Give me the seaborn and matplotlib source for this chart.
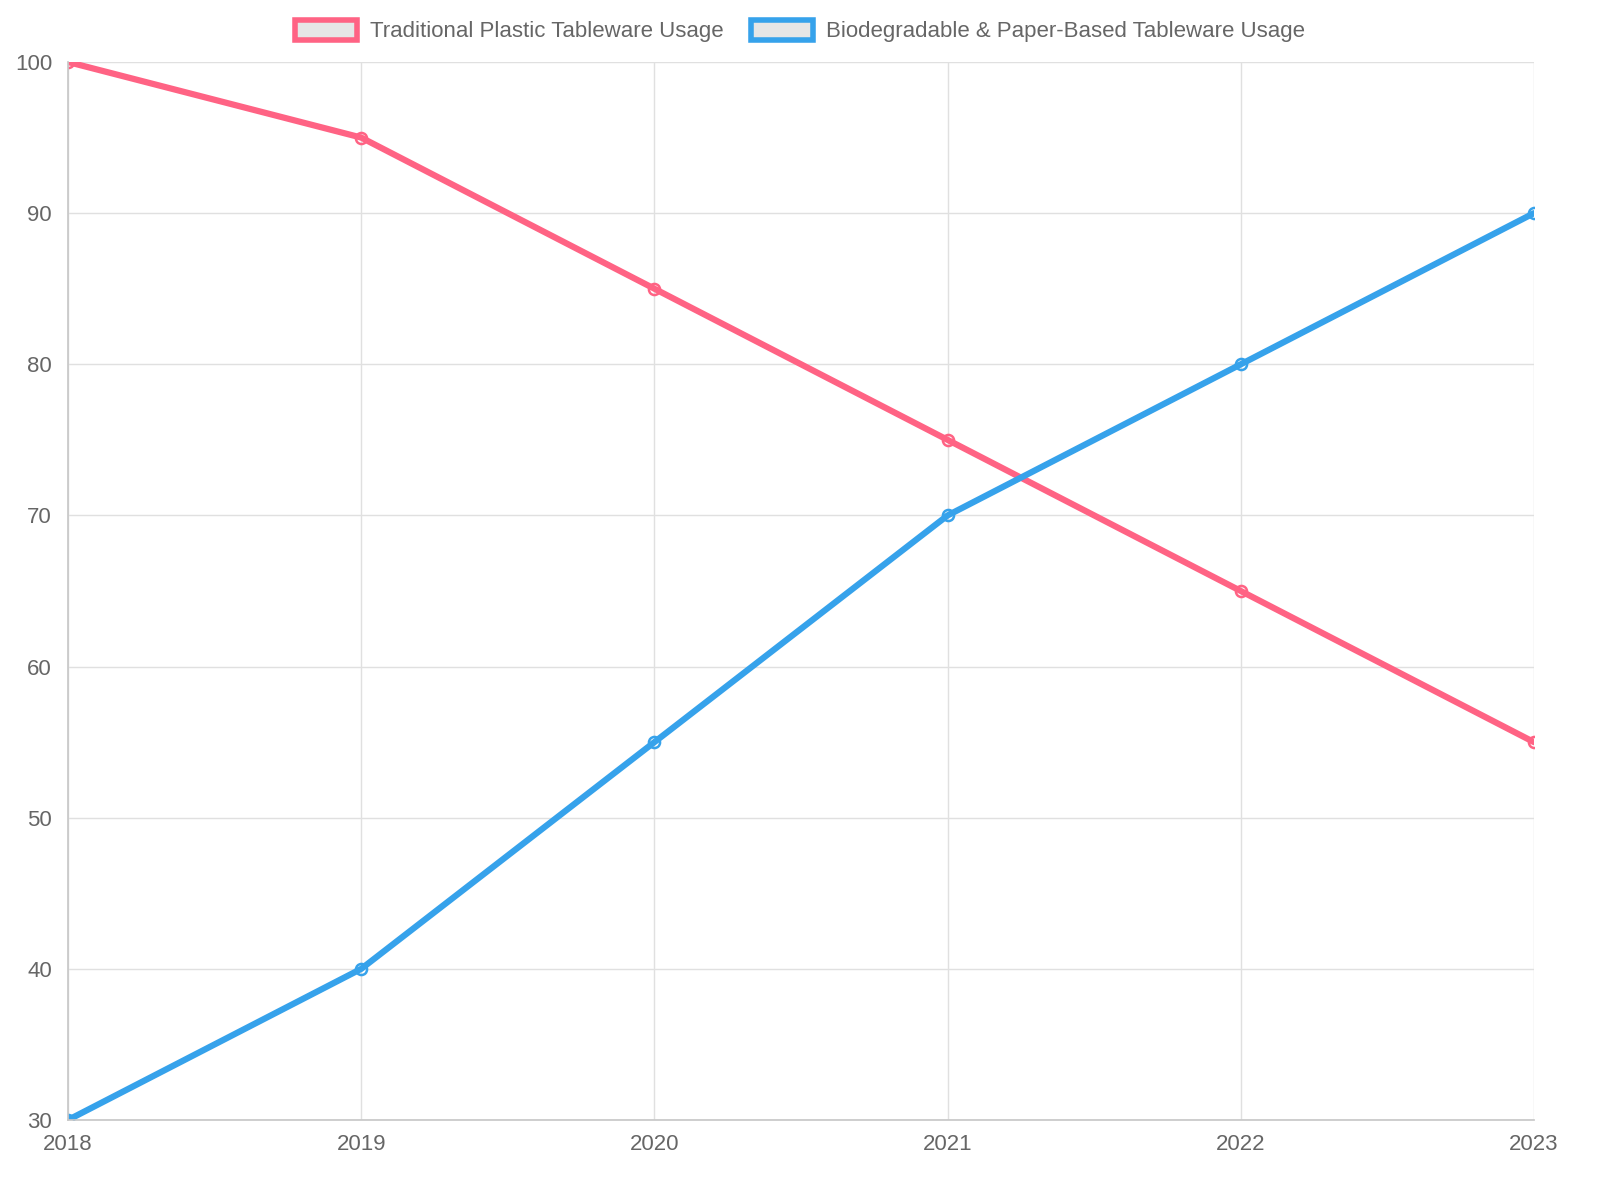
import matplotlib
matplotlib.use("Agg")
import matplotlib.pyplot as plt
import seaborn as sns
import pandas as pd
from matplotlib.patches import Patch

years = ["2018", "2019", "2020", "2021", "2022", "2023"]
plastic = [100, 95, 85, 75, 65, 55]
biodegradable = [30, 40, 55, 70, 80, 90]
labels = ["Traditional Plastic Tableware Usage", "Biodegradable & Paper-Based Tableware Usage"]
colors = ["#ff6384", "#36a2eb"]

sns.set_theme(style="white")
plt.rcParams['font.family'] = ['Liberation Sans', 'DejaVu Sans']

df = pd.DataFrame({"year": list(range(len(years))) * 2,
                   "value": plastic + biodegradable,
                   "series": [labels[0]] * 6 + [labels[1]] * 6})

fig = plt.figure(figsize=(16, 12), dpi=100)
ax = fig.add_axes([68/1600, 1-1120/1200, (1534-68)/1600, (1120-62)/1200])
sns.lineplot(data=df, x="year", y="value", hue="series", palette=colors,
             linewidth=4.5, marker="o", markersize=8, markerfacecolor="none",
             markeredgewidth=1.8, ax=ax, legend=False)
for l, c in zip(ax.lines, colors):
    l.set_markeredgecolor(c)

ax.set_xlim(0, 5)
ax.set_ylim(30, 100)
ax.set_xticks(range(6))
ax.set_xticklabels(years)
ax.set_yticks(range(30, 101, 10))
ax.set_xlabel("")
ax.set_ylabel("")
ax.grid(True, color="#e0e0e0", linewidth=1)
for s in ["top", "right"]:
    ax.spines[s].set_visible(False)
for s in ["left", "bottom"]:
    ax.spines[s].set_color("#c8c8c8")
ax.tick_params(axis="both", colors="#666666", labelsize=16, length=8, color="#e0e0e0")
ax.tick_params(axis="x", pad=2)

handles = [Patch(facecolor="#e6e6e6", edgecolor=c, linewidth=4) for c in colors]
fig.legend(handles, labels, loc="center", bbox_to_anchor=(0.5, 1-31/1200), ncol=2,
           frameon=False, fontsize=16, labelcolor="#666666", handlelength=2.8,
           handleheight=1.0, columnspacing=1.2, handletextpad=0.6)

fig.savefig("out.png", dpi=100)
